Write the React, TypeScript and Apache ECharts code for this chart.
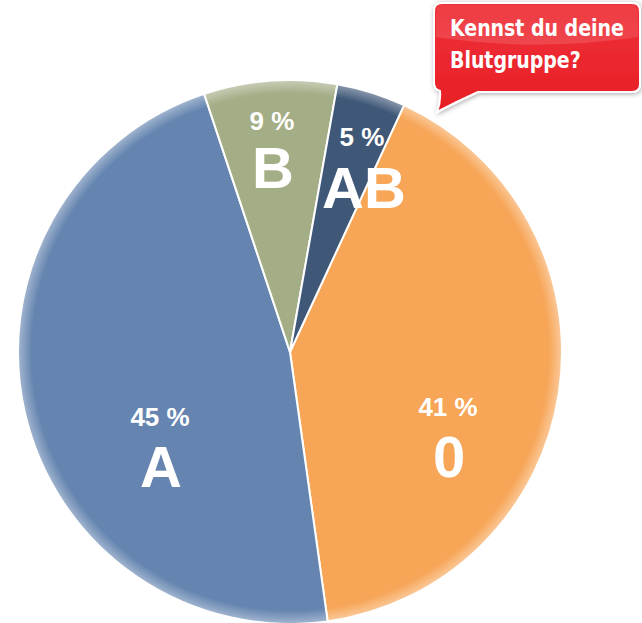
import React, { useEffect, useRef } from "react";
import * as echarts from "echarts";

// Blood groups, clockwise from the AB/0 boundary
const categories = ["0", "A", "B", "AB"];
// Printed percentages
const percentLabels = ["41 %", "45 %", "9 %", "5 %"];
// Angular share of each slice as drawn in the picture (percent of the circle)
const sliceShares = [40.9, 47.1, 7.9, 4.1];
const sliceColors = ["#F7A556", "#6585B0", "#A3AD86", "#3F5878"];

// Label anchor points (pixels) for percent and letter, per slice
const labelLayout = [
  { px: 448, py: 407, lx: 449, ly: 456 },
  { px: 160, py: 417, lx: 161, ly: 466 },
  { px: 272, py: 121, lx: 273, ly: 167 },
  { px: 362, py: 137, lx: 364, ly: 187 },
];

const bubbleTitle = ["Kennst du deine", "Blutgruppe?"];

const bubblePath =
  "M 442 3 H 632 Q 640 3 640 11 V 84 Q 640 92 632 92 H 478 Q 458 101 437 112 Q 441 102 440 91 Q 434 89 434 83 V 11 Q 434 3 442 3 Z";
const glossPath =
  "M 436 12 Q 436 5 444 5 H 630 Q 638 5 638 12 V 37 Q 537 52 436 37 Z";

let registered = false;

export default function App() {
  const ref = useRef<HTMLDivElement>(null);
  useEffect(() => {
    document.body.style.margin = "0";
    if (!registered) {
      echarts.graphic.registerShape("bubble", echarts.graphic.extendPath(bubblePath, {}));
      echarts.graphic.registerShape("gloss", echarts.graphic.extendPath(glossPath, {}));
      registered = true;
    }
    const chart = echarts.init(ref.current!, null, { renderer: "svg" });
    const labelFont = "'Liberation Sans', Arial, sans-serif";
    const graphics: any[] = [];
    categories.forEach((c, i) => {
      const L = labelLayout[i];
      graphics.push({
        type: "text",
        x: L.px,
        y: L.py,
        z: 100,
        silent: true,
        style: {
          text: percentLabels[i],
          fill: "#ffffff",
          font: `bold 26px ${labelFont}`,
          align: "center",
          verticalAlign: "middle",
        },
      });
      graphics.push({
        type: "text",
        x: L.lx,
        y: L.ly,
        z: 100,
        silent: true,
        style: {
          text: c,
          fill: "#ffffff",
          font: `bold 58px ${labelFont}`,
          align: "center",
          verticalAlign: "middle",
        },
      });
    });
    graphics.push({
      type: "bubble",
      x: 0,
      y: 0,
      z: 100,
      silent: true,
      style: {
        fill: new echarts.graphic.LinearGradient(0, 0, 0, 1, [
          { offset: 0, color: "#EF3138" },
          { offset: 1, color: "#E81E26" },
        ]),
        stroke: "#ffffff",
        lineWidth: 2,
        shadowBlur: 5,
        shadowColor: "rgba(0,0,0,0.35)",
        shadowOffsetX: 1,
        shadowOffsetY: 1,
      },
    });
    graphics.push({
      type: "gloss",
      x: 0,
      y: 0,
      z: 100,
      silent: true,
      style: {
        fill: new echarts.graphic.LinearGradient(0, 0, 0, 1, [
          { offset: 0, color: "rgba(255,255,255,0.05)" },
          { offset: 1, color: "rgba(255,255,255,0.14)" },
        ]),
      },
    });
    const bubbleFont = "'Liberation Sans Narrow', 'DejaVu Sans Condensed', 'Roboto', sans-serif";
    bubbleTitle.forEach((t, i) => {
      graphics.push({
        type: "text",
        x: 450,
        y: 28 + i * 32,
        z: 101,
        scaleX: 0.915,
        silent: true,
        style: {
          text: t,
          fill: "#ffffff",
          font: `bold 23px ${bubbleFont}`,
          align: "left",
          verticalAlign: "middle",
        },
      });
    });

    chart.setOption({
      animation: false,
      backgroundColor: "#ffffff",
      series: [
        {
          type: "pie",
          center: [290, 352],
          radius: 272,
          startAngle: 65.2,
          clockwise: true,
          silent: true,
          label: { show: false },
          labelLine: { show: false },
          itemStyle: { borderColor: "#ffffff", borderWidth: 2 },
          data: categories.map((c, i) => ({
            name: c,
            value: sliceShares[i],
            itemStyle: { color: sliceColors[i] },
          })),
        },
        {
          type: "pie",
          center: [290, 352],
          radius: 272,
          silent: true,
          label: { show: false },
          labelLine: { show: false },
          itemStyle: {
            borderWidth: 0,
            color: new echarts.graphic.RadialGradient(0.5, 0.5, 0.5, [
              { offset: 0, color: "rgba(255,255,255,0)" },
              { offset: 0.95, color: "rgba(255,255,255,0)" },
              { offset: 1, color: "rgba(255,255,255,0.4)" },
            ]),
          },
          data: [{ name: "rim", value: 1 }],
        },
      ],
      graphic: graphics,
    });
    return () => chart.dispose();
  }, []);
  return <div ref={ref} style={{ width: 642, height: 623 }} />;
}
